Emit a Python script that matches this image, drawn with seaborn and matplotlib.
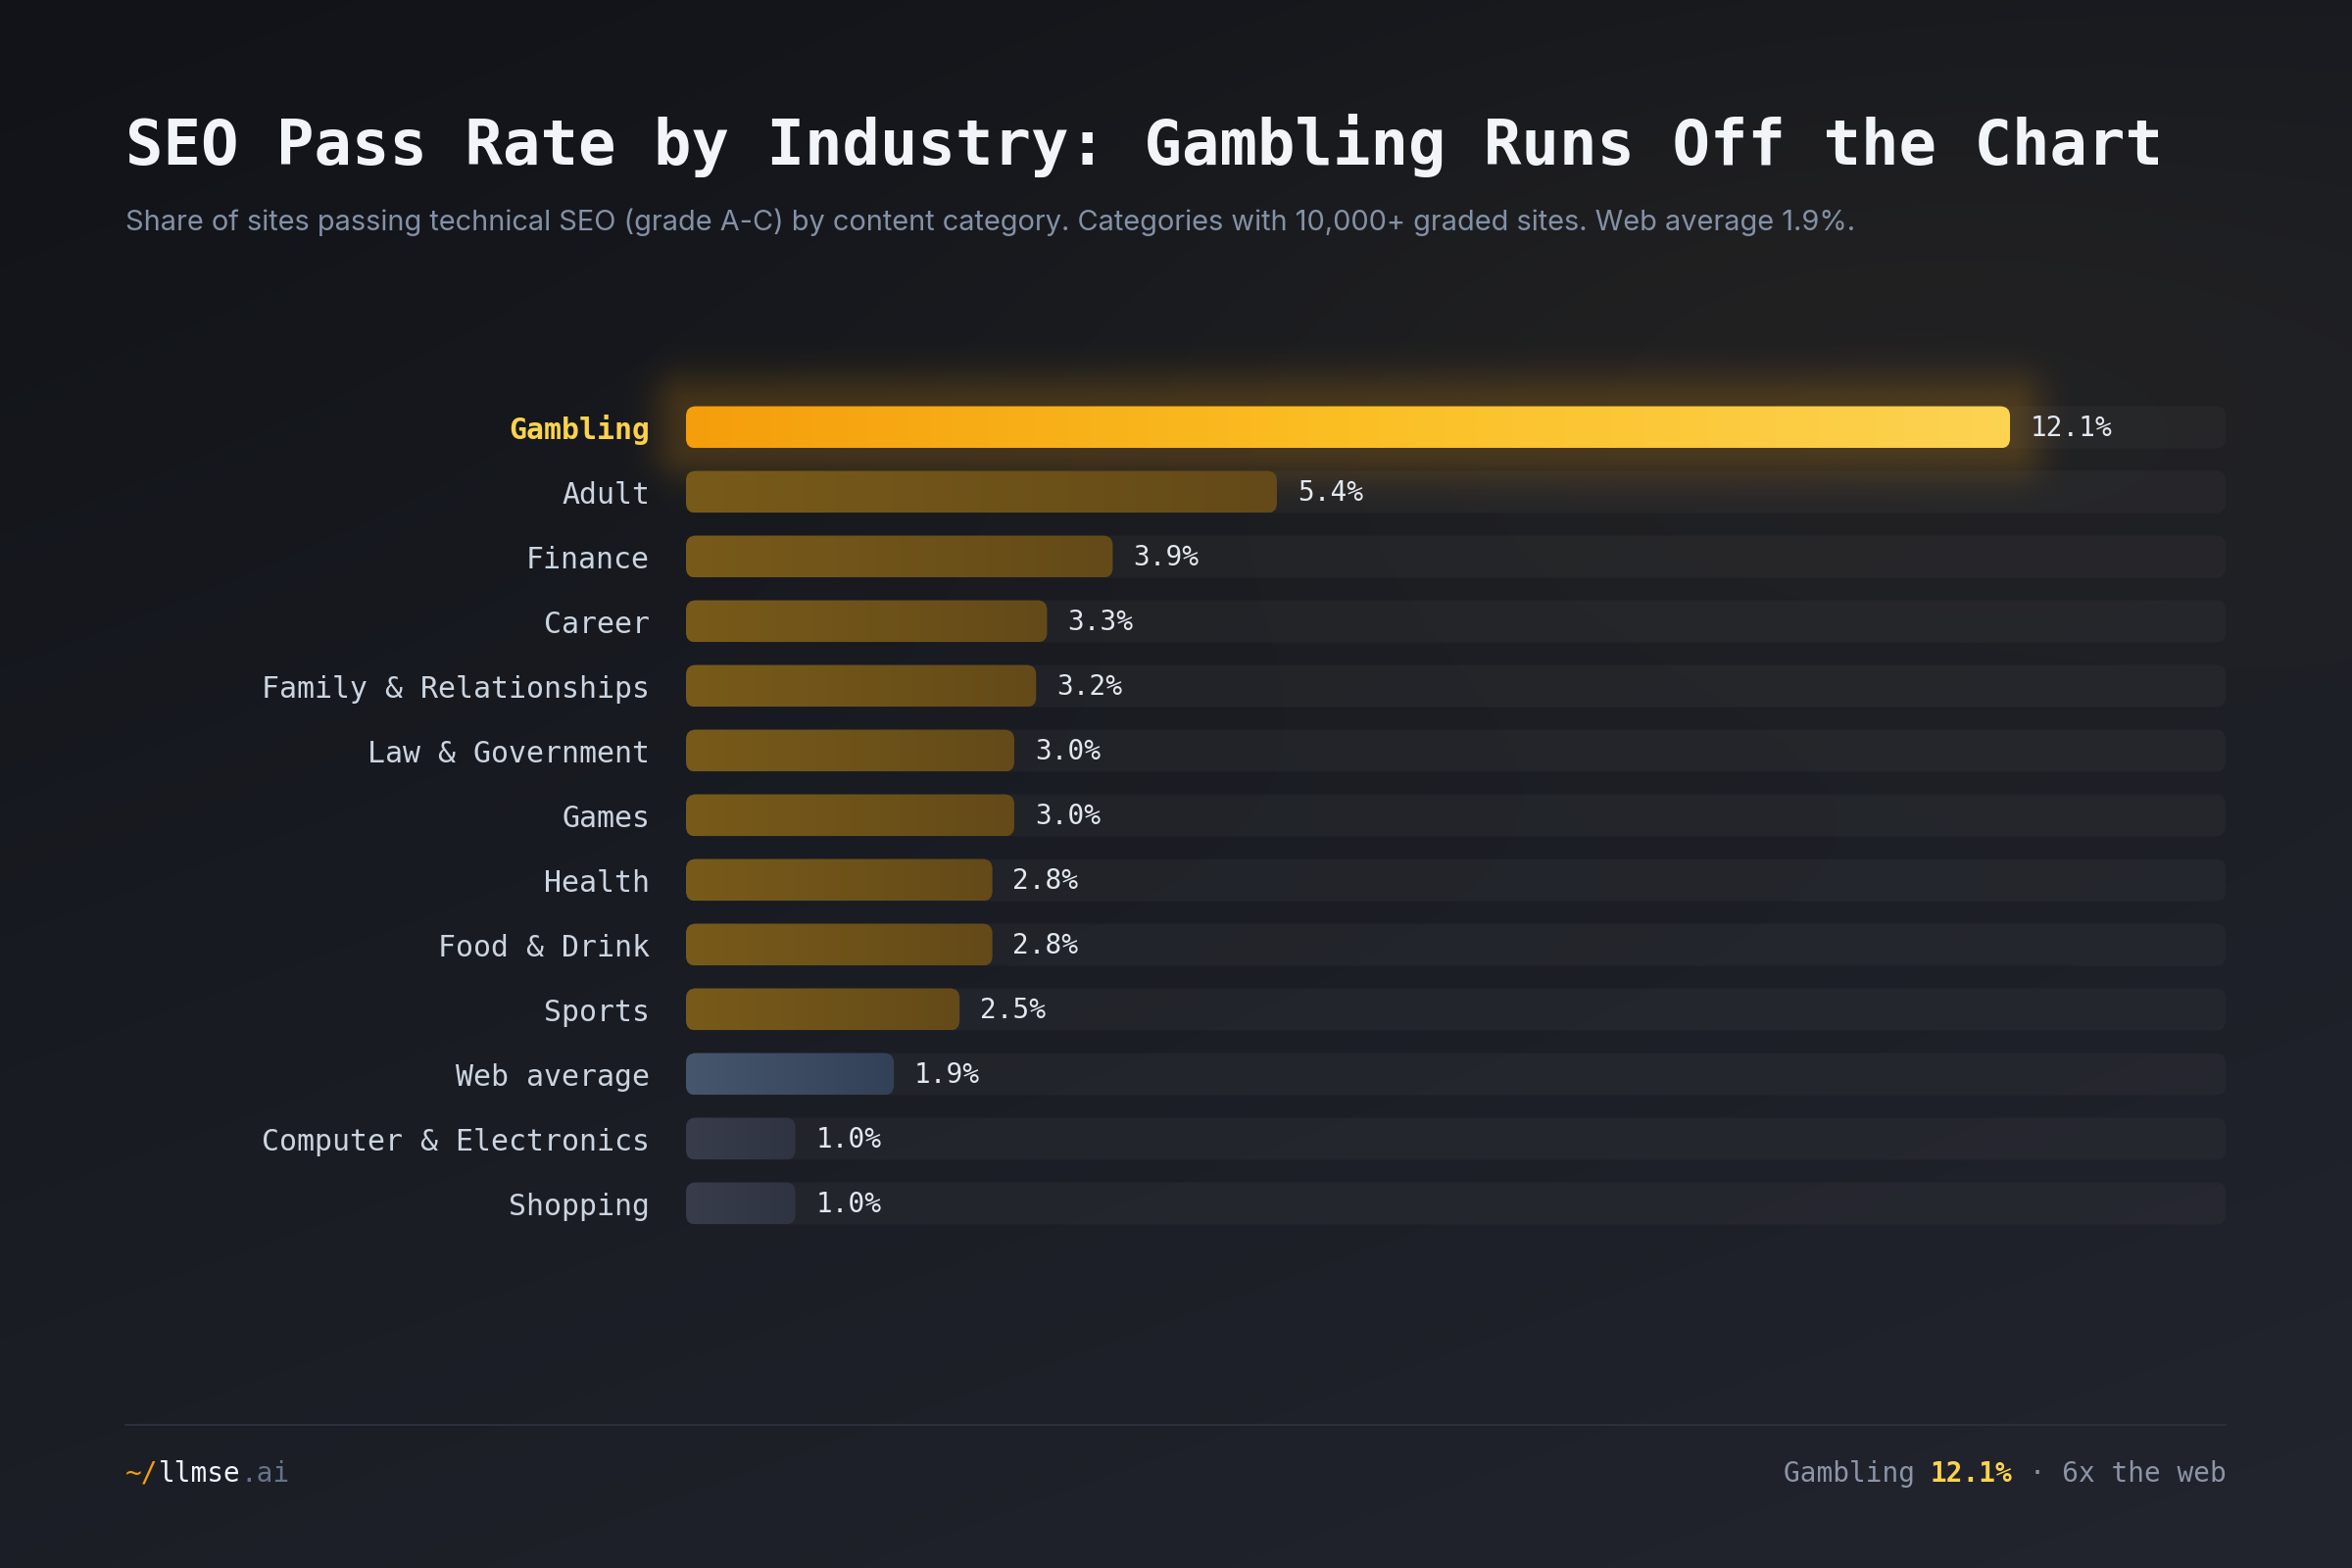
import numpy as np
import pandas as pd
import matplotlib
matplotlib.use("Agg")
import matplotlib.pyplot as plt
import matplotlib.transforms as mtrans
from matplotlib.patches import FancyBboxPatch
from matplotlib.lines import Line2D
from matplotlib.colors import LinearSegmentedColormap, to_rgb
import seaborn as sns

# data
categories = ["Gambling", "Adult", "Finance", "Career", "Family & Relationships",
              "Law & Government", "Games", "Health", "Food & Drink", "Sports",
              "Web average", "Computer & Electronics", "Shopping"]
pass_rate = [12.1, 5.4, 3.9, 3.3, 3.2, 3.0, 3.0, 2.8, 2.8, 2.5, 1.9, 1.0, 1.0]
value_labels = ["12.1%", "5.4%", "3.9%", "3.3%", "3.2%", "3.0%", "3.0%",
                "2.8%", "2.8%", "2.5%", "1.9%", "1.0%", "1.0%"]

# bar colours: start colour (palette) and gradient end
bar_colors = ["#f59e0b"] + ["#785b1a"] * 9 + ["#46566c", "#373d4b", "#373d4b"]
bar_fades = [["#f59e0b", "#fbbf24", "#fdd352"]] + [["#785b1a", "#644a18"]] * 9 + \
            [["#46566c", "#334157"], ["#373d4b", "#2e3441"], ["#373d4b", "#2e3441"]]

title = "SEO Pass Rate by Industry: Gambling Runs Off the Chart"
subtitle = ("Share of sites passing technical SEO (grade A-C) by content category. "
            "Categories with 10,000+ graded sites. Web average 1.9%.")

MONO = "DejaVu Sans Mono"
sns.set_theme(style="dark")
plt.rcParams["font.family"] = [MONO, "DejaVu Sans"]

fig = plt.figure(figsize=(24, 16), dpi=100)

# background gradient with a faint warm glow top right
bg_ax = fig.add_axes([0, 0, 1, 1], zorder=-10)
H, W = 320, 480
yy, xx = np.mgrid[0:1:H * 1j, 0:1:W * 1j]
t = np.clip(0.35 * xx + 0.65 * yy, 0, 1)
c0 = np.array(to_rgb("#111318"))
c1 = np.array(to_rgb("#22252e"))
img = c0 + (c1 - c0) * t[..., None]
d = np.sqrt(((xx - 0.78) / 0.33) ** 2 + ((yy - 0.22) / 0.22) ** 2)
img += np.exp(-d ** 2)[..., None] * np.array([0.035, 0.025, 0.004])
bg_ax.imshow(np.clip(img, 0, 1), extent=[0, 1, 0, 1], aspect="auto", interpolation="bilinear")
bg_ax.axis("off")

# main axes
ax = fig.add_axes([700 / 2400, 1 - 1261 / 1600, 1571 / 2400, 858 / 1600])
ax.set_facecolor("none")
df = pd.DataFrame({"category": categories, "rate": pass_rate})
sns.barplot(data=df, x="rate", y="category", hue="category", palette=bar_colors,
            legend=False, width=0.65, saturation=1, ax=ax)

xmax = 14.07
n = len(categories)
ax.set_xlim(0, xmax)
ax.set_ylim(n - 0.5, -0.5)

p0 = ax.transData.transform((0, 0))
px_x = ax.transData.transform((1, 0))[0] - p0[0]
px_y = abs(ax.transData.transform((0, 1))[1] - p0[1])
asp = px_x / px_y
rad = 10 / px_x


def rounded(x, y, w, h, pad=0.0, **kw):
    return FancyBboxPatch((x, y), w, h, mutation_aspect=asp,
                          boxstyle=f"round,pad={pad},rounding_size={rad + pad}", **kw)


grad = np.linspace(0, 1, 256)[None, :]
for p in list(ax.patches):
    x0, y0, w, h = p.get_x(), p.get_y(), p.get_width(), p.get_height()
    p.remove()
    i = int(round(y0 + h / 2))
    # track
    ax.add_patch(rounded(0, y0, xmax, h, fc=(1, 1, 1, 0.03), ec="none", zorder=1))
    if i == 0:
        # soft glow round the lead bar, falling off with pixel distance
        ex = 100 / px_x
        ey = 100 / px_y
        gx = np.linspace(x0 - ex, x0 + w + ex, 600)
        gy = np.linspace(y0 - ey, y0 + h + ey, 160)
        GX, GY = np.meshgrid(gx, gy)
        dx = np.maximum(0, np.abs(GX - (x0 + w / 2)) - w / 2) * px_x
        dy = np.maximum(0, np.abs(GY - (y0 + h / 2)) - h / 2) * px_y
        dist = np.sqrt(dx ** 2 + dy ** 2)
        glow = np.zeros(GX.shape + (4,))
        glow[..., :3] = to_rgb("#f59e0b")
        glow[..., 3] = 0.2 * np.exp(-(dist / 36) ** 2)
        gim = ax.imshow(glow, extent=[gx[0], gx[-1], gy[-1], gy[0]], aspect="auto",
                        interpolation="bilinear", zorder=2)
        gim.set_clip_on(False)
    bar = rounded(x0, y0, w, h, fc="none", ec="none", zorder=3)
    ax.add_patch(bar)
    cmap = LinearSegmentedColormap.from_list(f"b{i}", bar_fades[i])
    im = ax.imshow(grad, cmap=cmap, extent=[x0, x0 + w, y0 + h, y0], aspect="auto",
                   interpolation="bicubic", zorder=3)
    im.set_clip_path(bar)

for i, (val, lbl) in enumerate(zip(pass_rate, value_labels)):
    ax.annotate(lbl, xy=(val, i), xytext=(15, -1), textcoords="offset points",
                va="center", ha="left", fontsize=20, color="#e2e8f0", zorder=5)

ax.set_xlim(0, xmax)
ax.set_ylim(n - 0.5, -0.5)
ax.set_xticks([])
ax.set_yticks(range(n))
ax.set_yticklabels(categories, fontsize=21.5, color="#cbd5e1")
ax.tick_params(axis="y", length=0, pad=26.6)
ax.set_xlabel("")
ax.set_ylabel("")
ax.grid(False)
for s in ax.spines.values():
    s.set_visible(False)
glbl = ax.get_yticklabels()[0]
glbl.set_color("#fcd34d")
glbl.set_fontweight("bold")

# titles
fig.text(128 / 2400, 1 - 168 / 1600, title, fontsize=46, fontweight="bold",
         color="#f1f5f9", va="baseline")
fig.text(128 / 2400, 1 - 235 / 1600, subtitle, fontsize=20.85, family=["Inter", "DejaVu Sans"],
         color="#8391a7", va="baseline")

# footer
fig.add_artist(Line2D([128 / 2400, 2271 / 2400], [1 - 1454 / 1600] * 2,
                      color="#2b303b", lw=1.5))

FS = 20


def seg_text(x, y, parts, right=False):
    adv = 0.602 * FS
    total = sum(len(p[0]) for p in parts)
    off = -total * adv if right else 0
    for txt, col, wt in parts:
        tr = mtrans.offset_copy(fig.transFigure, fig=fig, x=off, y=0, units="points")
        fig.text(x, y, txt, transform=tr, fontsize=FS, color=col, fontweight=wt,
                 va="baseline", ha="left")
        off += len(txt) * adv


fy = 1 - 1512 / 1600
seg_text(128 / 2400, fy, [("~/", "#f59e0b", "normal"), ("llmse", "#f1f5f9", "normal"),
                          (".ai", "#64748b", "normal")])
seg_text(2271 / 2400, fy, [("Gambling ", "#8b95a7", "normal"), ("12.1%", "#fcd34d", "bold"),
                           (" \u00b7 6x the web", "#8b95a7", "normal")], right=True)

fig.savefig("out.png", dpi=100)
